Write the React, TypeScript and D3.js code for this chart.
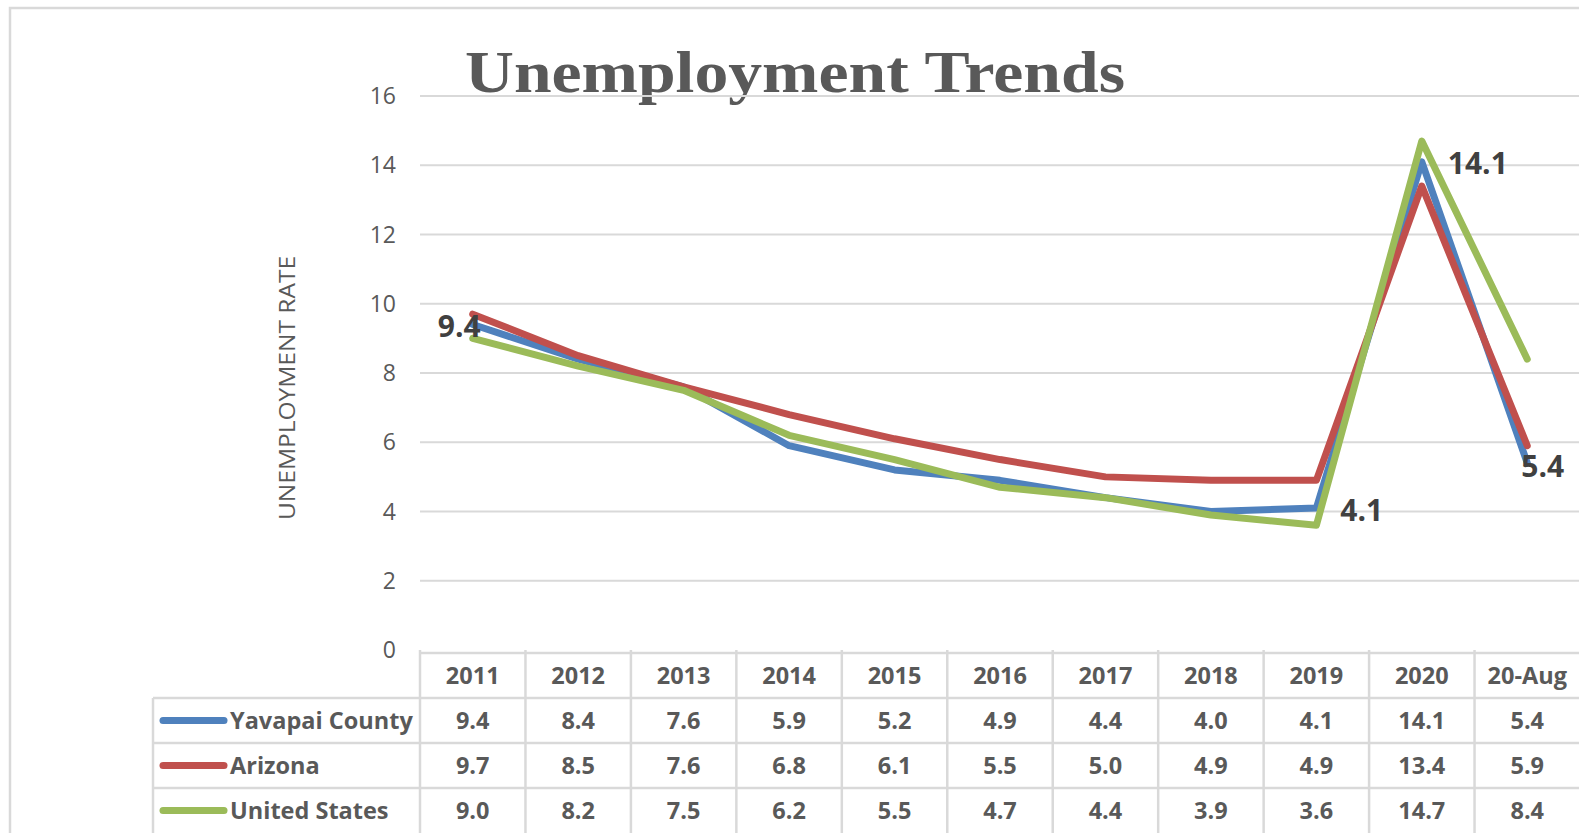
import * as d3 from 'd3';
import { useEffect } from 'react';

const categories = ['2011', '2012', '2013', '2014', '2015', '2016', '2017', '2018', '2019', '2020', '20-Aug'];
const yavapai = [9.4, 8.4, 7.6, 5.9, 5.2, 4.9, 4.4, 4.0, 4.1, 14.1, 5.4];
const arizona = [9.7, 8.5, 7.6, 6.8, 6.1, 5.5, 5.0, 4.9, 4.9, 13.4, 5.9];
const unitedStates = [9.0, 8.2, 7.5, 6.2, 5.5, 4.7, 4.4, 3.9, 3.6, 14.7, 8.4];
const yTicks = [0, 2, 4, 6, 8, 10, 12, 14, 16];

const series = [
  { name: 'Yavapai County', values: yavapai, color: '#4f81bd' },
  { name: 'Arizona', values: arizona, color: '#c0504d' },
  { name: 'United States', values: unitedStates, color: '#9bbb59' },
];

// labels shown only on the Yavapai line
const labelIdx = [
  { i: 0, dx: 8, dy: 2, anchor: 'end' },
  { i: 8, dx: 24, dy: 2, anchor: 'start' },
  { i: 9, dx: 26, dy: 2, anchor: 'start' },
  { i: 10, dx: -6, dy: 3, anchor: 'start' },
];

const App = () => {
  useEffect(() => {
    document.body.style.margin = '0';
    document.documentElement.style.overflow = 'hidden';
  }, []);

  const width = 1579;
  const height = 833;
  const plotLeft = 420;
  const plotRight = 1580;
  const plotTop = 96;
  const plotBottom = 650;

  const xScale = d3.scaleBand().domain(categories).range([plotLeft, plotRight]);
  const yScale = d3.scaleLinear().domain([0, 16]).range([plotBottom, plotTop]);
  const cx = (c) => xScale(c) + xScale.bandwidth() / 2;

  const line = d3.line()
    .x((d, i) => cx(categories[i]))
    .y((d) => yScale(d));

  const tableTop = 653;
  const rowH = 45;
  const legendLeft = 153;
  const grey = '#595959';
  const gridCol = '#d9d9d9';
  const font = "'Open Sans', 'Noto Sans', sans-serif";

  return (
    <svg width={width} height={height} style={{ display: 'block', background: '#fff' }}>
      <rect x={10} y={8} width={1700} height={900} fill="#fff" stroke={gridCol} strokeWidth={2.5} />

      <text x={795} y={92} textAnchor="middle" fontFamily="'Liberation Serif', serif" fontWeight="bold"
        fontSize={60} fill={grey} textLength={660} lengthAdjust="spacingAndGlyphs">Unemployment Trends</text>

      {yTicks.map((t) => (
        <g key={t}>
          {t > 0 && (
            <line x1={plotLeft} x2={plotRight} y1={yScale(t)} y2={yScale(t)} stroke={gridCol} strokeWidth={2} />
          )}
          <text x={396} y={yScale(t)} dy="0.35em" textAnchor="end" fontFamily={font} fontSize={23} fill={grey}>{t}</text>
        </g>
      ))}

      <text transform={`translate(295, 388) rotate(-90)`} textAnchor="middle" fontFamily={font}
        fontSize={22} fill={grey} textLength={264} lengthAdjust="spacingAndGlyphs">UNEMPLOYMENT RATE</text>

      {series.map((s) => (
        <path key={s.name} d={line(s.values)} fill="none" stroke={s.color} strokeWidth={7}
          strokeLinejoin="round" strokeLinecap="round" />
      ))}

      {labelIdx.map(({ i, dx, dy, anchor }) => (
        <text key={i}
          x={cx(categories[i]) + dx}
          y={yScale(yavapai[i]) + dy}
          dy="0.35em"
          textAnchor={anchor}
          fontFamily={font} fontWeight="bold" fontSize={30} fill="#404040">
          {yavapai[i].toFixed(1)}
        </text>
      ))}

      {/* data table */}
      <g fontFamily={font} fontWeight="bold" fontSize={23.5} fill={grey}>
        <line x1={plotLeft} x2={plotRight} y1={tableTop} y2={tableTop} stroke={gridCol} strokeWidth={2.5} />
        {series.map((s, r) => (
          <line key={r} x1={legendLeft} x2={plotRight} y1={tableTop + rowH * (r + 1)} y2={tableTop + rowH * (r + 1)}
            stroke={gridCol} strokeWidth={2.5} />
        ))}
        <line x1={legendLeft} x2={legendLeft} y1={tableTop + rowH} y2={height + 10} stroke={gridCol} strokeWidth={2.5} />
        {categories.map((c) => (
          <line key={c} x1={xScale(c)} x2={xScale(c)} y1={plotBottom} y2={height + 10} stroke={gridCol} strokeWidth={2.5} />
        ))}
        {categories.map((c) => (
          <text key={c} x={cx(c)} y={tableTop + rowH / 2} dy="0.35em" textAnchor="middle">{c}</text>
        ))}
        {series.map((s, r) => (
          <g key={s.name}>
            <line x1={163} x2={224} y1={tableTop + rowH * (r + 1.5)} y2={tableTop + rowH * (r + 1.5)}
              stroke={s.color} strokeWidth={7} strokeLinecap="round" />
            <text x={230} y={tableTop + rowH * (r + 1.5)} dy="0.35em">{s.name}</text>
            {s.values.map((v, i) => (
              <text key={i} x={cx(categories[i])} y={tableTop + rowH * (r + 1.5)} dy="0.35em" textAnchor="middle">
                {v.toFixed(1)}
              </text>
            ))}
          </g>
        ))}
      </g>
    </svg>
  );
};

export default App;
